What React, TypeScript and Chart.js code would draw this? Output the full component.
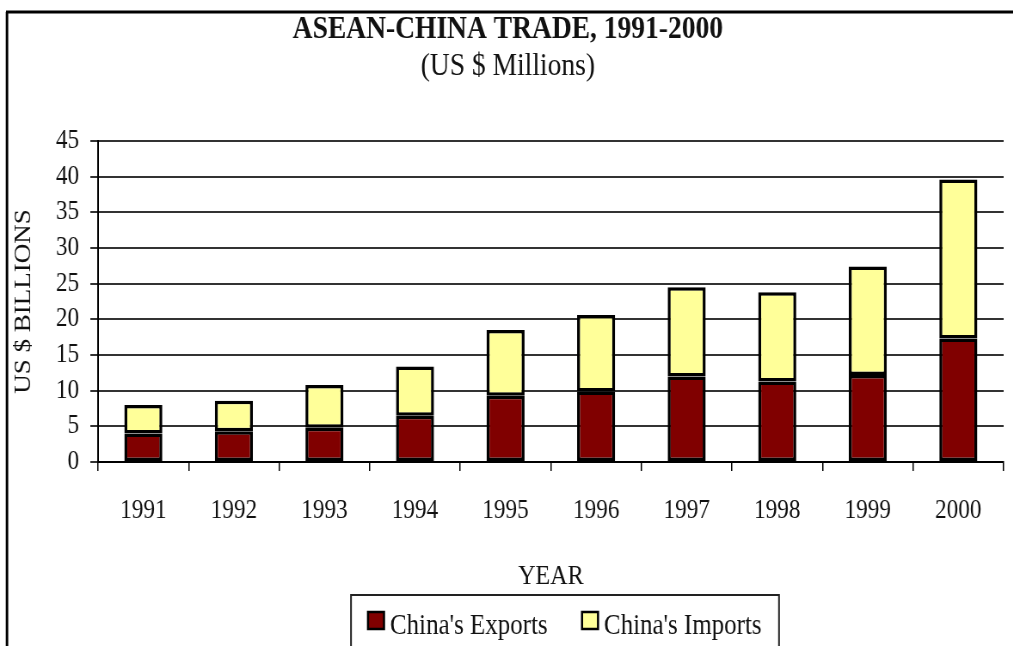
import React, { useEffect, useRef } from 'react';
import { Chart, registerables } from 'chart.js';

Chart.register(...registerables);

// ---- data ----
const years = ['1991', '1992', '1993', '1994', '1995', '1996', '1997', '1998', '1999', '2000'];
const chinaExports = [4.0, 4.3, 4.8, 6.5, 9.3, 9.9, 12.0, 11.3, 12.2, 17.3];
const chinaImports = [4.0, 4.3, 6.0, 6.9, 9.2, 10.7, 12.5, 12.5, 15.2, 22.3];
const seriesLabels = ["China's Exports", "China's Imports"];
const yTickStep = 5;
const yMax = 45;
const chartTitle = 'ASEAN-CHINA TRADE, 1991-2000';
const chartSubtitle = '(US $ Millions)';
const yTitle = 'US $ BILLIONS';
const xTitle = 'YEAR';

// ---- layout / style ----
const S = 0.86; // horizontal squeeze of the original picture
const W = Math.round(1013 / S);
const H = 646;
const FONT = "'Liberation Serif', 'Times New Roman', serif";
const EXPORT_COLOR = '#800000';
const IMPORT_COLOR = '#FFFF99';

const framePlugin = {
  id: 'frame',
  beforeDraw(chart: any) {
    const ctx = chart.ctx;
    ctx.save();
    ctx.fillStyle = '#fff';
    ctx.fillRect(0, 0, chart.width, chart.height);
    ctx.strokeStyle = '#000';
    ctx.lineWidth = 3;
    ctx.beginPath();
    ctx.moveTo(6 / S, 12);
    ctx.lineTo(chart.width, 12);
    ctx.stroke();
    ctx.lineWidth = 2.5 / S;
    ctx.beginPath();
    ctx.moveTo(7 / S, 12);
    ctx.lineTo(7 / S, chart.height);
    ctx.stroke();
    ctx.restore();
  },
};

const legendPlugin = {
  id: 'boxLegend',
  afterDraw(chart: any) {
    const ctx = chart.ctx;
    ctx.save();
    ctx.strokeStyle = '#222';
    ctx.lineWidth = 2;
    ctx.strokeRect(351 / S, 595, (779 - 351) / S, 80);
    const items = [
      { box: 368, text: 390 },
      { box: 582, text: 604 },
    ];
    ctx.font = `29px ${FONT}`;
    ctx.textBaseline = 'middle';
    ctx.textAlign = 'left';
    chart.data.datasets.forEach((ds: any, i: number) => {
      const it = items[i];
      if (!it) return;
      ctx.fillStyle = ds.backgroundColor;
      ctx.fillRect(it.box / S, 612, 16 / S, 17);
      ctx.lineWidth = 2.5;
      ctx.strokeStyle = '#000';
      ctx.strokeRect(it.box / S, 612, 16 / S, 17);
      ctx.fillStyle = '#111';
      ctx.fillText(ds.label, it.text / S, 626);
    });
    ctx.restore();
  },
};

export default function App() {
  const canvasRef = useRef<HTMLCanvasElement | null>(null);

  useEffect(() => {
    if (!canvasRef.current) return;
    const barStyle = {
      borderColor: '#000',
      borderWidth: 3.5,
      borderSkipped: false,
      inflateAmount: 0,
      categoryPercentage: 1,
      barPercentage: 0.42,
    };
    const chart = new Chart(canvasRef.current, {
      type: 'bar',
      data: {
        labels: years,
        datasets: [
          {
            label: seriesLabels[0],
            data: chinaExports,
            backgroundColor: EXPORT_COLOR,
            ...barStyle,
          },
          {
            label: seriesLabels[1],
            data: chinaImports,
            backgroundColor: IMPORT_COLOR,
            ...barStyle,
          },
        ],
      },
      options: {
        responsive: false,
        animation: false,
        devicePixelRatio: 1,
        layout: { padding: { left: 14, right: 11, top: 0, bottom: 55 } },
        plugins: {
          legend: { display: false },
          tooltip: { enabled: false },
          title: {
            display: true,
            text: chartTitle,
            color: '#111',
            font: { family: FONT, size: 32, weight: 'bold', lineHeight: 1 },
            padding: { top: 14, bottom: 5 },
          },
          subtitle: {
            display: true,
            text: chartSubtitle,
            color: '#111',
            font: { family: FONT, size: 32, weight: 'normal', lineHeight: 1 },
            padding: { top: 0, bottom: 58 },
          },
        },
        scales: {
          x: {
            stacked: true,
            grid: {
              display: true,
              drawOnChartArea: false,
              drawTicks: true,
              tickLength: 9,
              color: '#000',
              lineWidth: 1.5,
              offset: true,
            },
            border: { display: true, color: '#000', width: 2 },
            ticks: {
              color: '#111',
              font: { family: FONT, size: 27, lineHeight: 1 },
              padding: 26,
              maxRotation: 0,
              autoSkip: false,
            },
            title: {
              display: true,
              text: xTitle,
              color: '#111',
              font: { family: FONT, size: 28, lineHeight: 1 },
              padding: { top: 13, bottom: 0 },
            },
          },
          y: {
            stacked: true,
            min: 0,
            max: yMax,
            ticks: {
              stepSize: yTickStep,
              color: '#111',
              font: { family: FONT, size: 27, lineHeight: 1 },
              padding: 13,
            },
            grid: { color: '#333', lineWidth: 2, tickLength: 9 },
            border: { display: true, color: '#000', width: 2 },
            title: {
              display: true,
              text: yTitle,
              color: '#111',
              font: { family: FONT, size: 27, lineHeight: 1 },
              padding: { top: 0, bottom: 11 },
            },
          },
        },
      },
      plugins: [framePlugin, legendPlugin],
    } as any);
    return () => chart.destroy();
  }, []);

  return (
    <div
      style={{
        position: 'fixed',
        left: 0,
        top: 0,
        width: 1013,
        height: 646,
        overflow: 'hidden',
        background: '#fff',
      }}
    >
      <canvas
        ref={canvasRef}
        width={W}
        height={H}
        style={{
          display: 'block',
          width: W,
          height: H,
          transform: `scaleX(${S})`,
          transformOrigin: '0 0',
        }}
      />
    </div>
  );
}
